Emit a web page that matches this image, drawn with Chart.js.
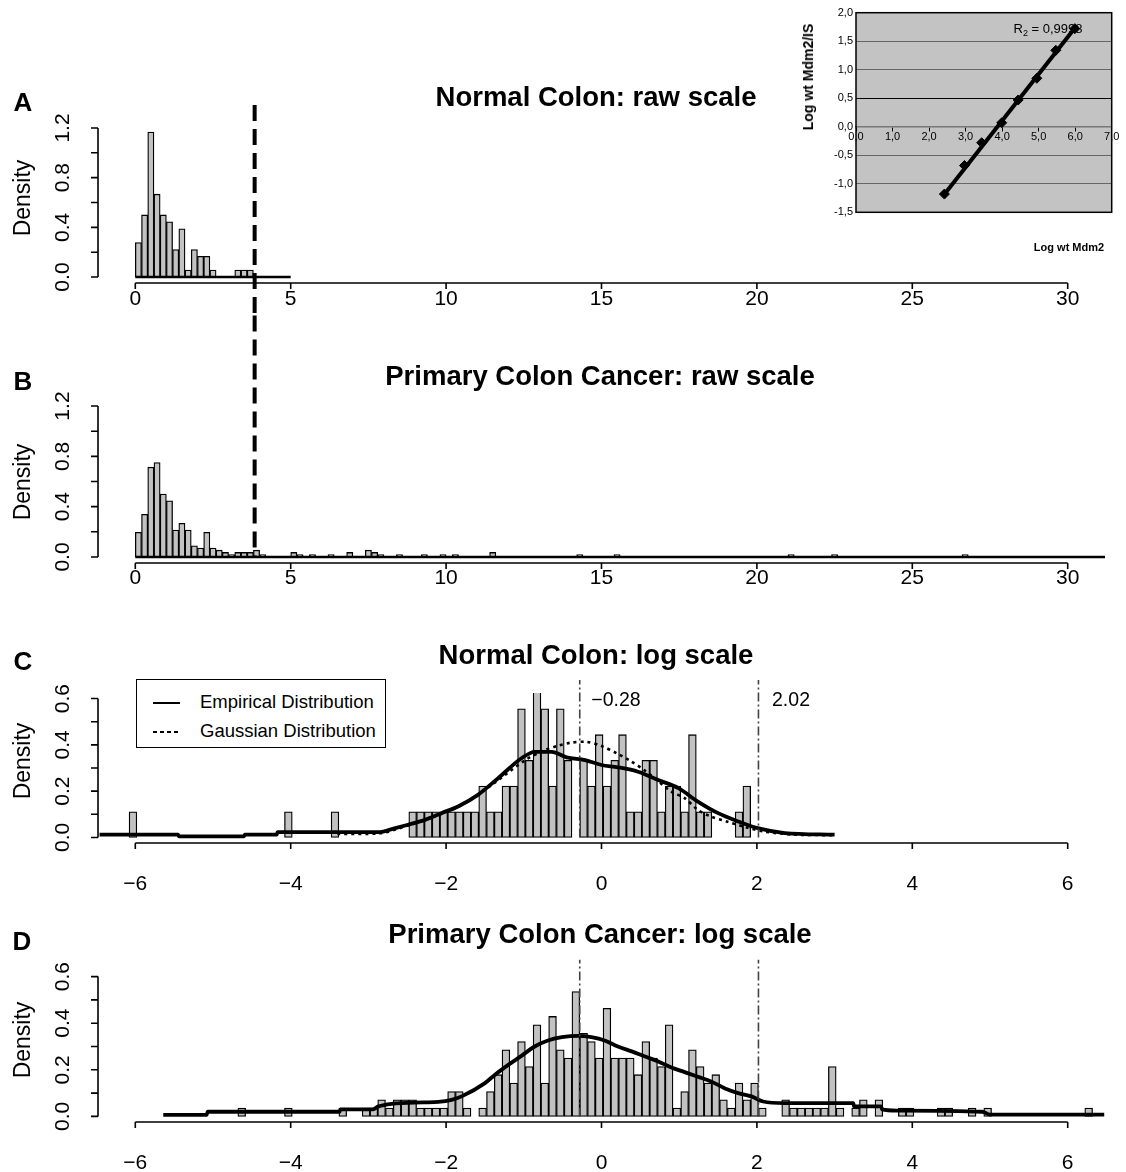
<!DOCTYPE html>
<html>
<head>
<meta charset="utf-8">
<script src="https://cdn.jsdelivr.net/npm/chart.js@4.4.1/dist/chart.umd.min.js"></script>
<style>
  html, body { margin: 0; padding: 0; background: #fff; }
  #fig { position: relative; width: 1126px; height: 1172px; overflow: hidden;
         font-family: "Liberation Sans", Arial, Helvetica, sans-serif; color: #000; }
  canvas { position: absolute; }
  .t { position: absolute; white-space: nowrap; line-height: 1; transform: translate(-50%, -50%); }
  .title  { font-weight: bold; font-size: 27.5px; }
  .letter { font-weight: bold; font-size: 26px; }
  .dens   { font-size: 23px; transform: translate(-50%, -50%) rotate(-90deg); }
  .cut    { font-size: 19.5px; }
  #legend { position: absolute; left: 136px; top: 679px; width: 248px; height: 67px;
            border: 1.5px solid #000; background: #fff; }
  .lrow { position: absolute; left: 16px; font-size: 18.5px; line-height: 20px; white-space: nowrap; }
  .lsw  { display: inline-block; width: 27px; height: 2.5px; vertical-align: middle; margin-right: 20px; }
  .small-b { font-weight: bold; font-size: 11px; }
  .r2 { font-size: 13px; }
  .r2 sub { font-size: 9px; }
</style>
</head>
<body>
<div id="fig">
  <canvas id="histA" width="1126" height="215" style="left:0;top:100px"></canvas>
  <canvas id="histB" width="1126" height="275" style="left:0;top:315px"></canvas>
  <canvas id="histC" width="1126" height="270" style="left:0;top:640px"></canvas>
  <canvas id="histD" width="1126" height="252" style="left:0;top:920px"></canvas>
  <canvas id="calib" width="346" height="260" style="left:780px;top:0"></canvas>

  <div class="t letter" style="left:23px;top:102px">A</div>
  <div class="t title" style="left:596px;top:97px">Normal Colon: raw scale</div>
  <div class="t dens" style="left:22px;top:198px">Density</div>

  <div class="t letter" style="left:23px;top:381px">B</div>
  <div class="t title" style="left:600px;top:376px">Primary Colon Cancer: raw scale</div>
  <div class="t dens" style="left:22px;top:482px">Density</div>

  <div class="t letter" style="left:23px;top:661px">C</div>
  <div class="t title" style="left:596px;top:655px">Normal Colon: log scale</div>
  <div class="t dens" style="left:22px;top:761px">Density</div>
  <div class="t cut" style="left:616px;top:700px">&minus;0.28</div>
  <div class="t cut" style="left:791px;top:700px">2.02</div>

  <div class="t letter" style="left:22px;top:941px">D</div>
  <div class="t title" style="left:600px;top:934px">Primary Colon Cancer: log scale</div>
  <div class="t dens" style="left:22px;top:1040px">Density</div>

  <div id="legend">
    <div class="lrow" style="top:12px"><span class="lsw" style="background:#000"></span>Empirical Distribution</div>
    <div class="lrow" style="top:41px"><span class="lsw" style="background:repeating-linear-gradient(90deg,#000 0 4px,transparent 4px 7px)"></span>Gaussian Distribution</div>
  </div>

  <div class="t small-b" style="left:808px;top:77px;transform:translate(-50%,-50%) rotate(-90deg);font-size:14px">Log wt Mdm2/IS</div>
  <div class="t small-b" style="left:1069px;top:247px">Log wt Mdm2</div>
  <div class="t r2" style="left:1048px;top:30px">R<sub>2</sub> = 0,9998</div>
</div>

<script>
const FONT = '"Liberation Sans", Arial, Helvetica, sans-serif';
Chart.defaults.font.family = FONT;
Chart.defaults.color = '#000';

// ---------- A / B : raw scale (bins of 0.2 starting at 0) ----------
const RAW_BIN = 0.2;
const A_DENSITY = [0.278, 0.5, 1.167, 0.667, 0.5, 0.444, 0.222, 0.389, 0.056, 0.222,
                   0.167, 0.167, 0.056, 0, 0, 0, 0.056, 0.056, 0.056];
const B_DENSITY = [0.196, 0.339, 0.714, 0.75, 0.5, 0.446, 0.214, 0.268, 0.214, 0.089,
                   0.071, 0.196, 0.071, 0.054, 0.036, 0.018, 0.036, 0.036, 0.036, 0.054, 0.018];
const B_TAIL_EDGES   = [5.0, 5.2, 5.6, 6.2, 6.8, 7.4, 7.6, 7.8, 8.4, 9.2, 9.8, 10.2, 11.4, 14.2, 15.4, 21.0, 22.4, 26.6];
const B_TAIL_DENSITY = [0.036, 0.018, 0.018, 0.018, 0.036, 0.054, 0.036, 0.018, 0.018, 0.018,
                        0.018, 0.018, 0.036, 0.018, 0.018, 0.018, 0.018, 0.018];
const A_FLAT_X = [0, 5];        // density trace lying on the axis
const B_FLAT_X = [0, 31.2];
const RAW_CUTOFF = 3.84;
const RAW_X_TICKS = [0, 5, 10, 15, 20, 25, 30];
const RAW_Y_TICKS = [0, 0.4, 0.8, 1.2];
const RAW_Y_MINOR = [0, 0.2, 0.4, 0.6, 0.8, 1.0, 1.2];

// ---------- C / D : log scale (bins of 0.1) ----------
const LOG_BIN = 0.1;
const C_FIRST_EDGE = -2.48;
const C_DENSITY = [0.111, 0.111, 0.111, 0.111, 0.111, 0.111, 0.111,
                   0.111, 0.111, 0.222, 0.111, 0.111, 0.222, 0.222, 0.556, 0.333,
                   0.667, 0.556, 0.222, 0.556, 0.333, 0, 0.333, 0.222, 0.444,
                   0.222, 0.333, 0.444, 0.111, 0.111, 0.333, 0.333, 0.111, 0.222,
                   0.222, 0.111, 0.444, 0.111, 0.111, 0, 0, 0, 0.111, 0.222];
const C_LONE_EDGES   = [-6.08, -4.08, -3.48];
const C_LONE_DENSITY = [0.111, 0.111, 0.111];
const C_EMP_X = [-6.46, -5.45, -5.44, -4.6, -4.59, -4.18, -4.17, -2.85, -2.7, -2.49,
                 -2.27, -2.06, -1.84, -1.59, -1.33, -1.03, -0.86, -0.64, -0.45, -0.21,
                 0, 0.21, 0.47, 0.73, 0.99, 1.24, 1.5, 1.76, 2.01, 2.36, 3.0];
const C_EMP_Y = [0.012, 0.012, 0.005, 0.005, 0.012, 0.012, 0.023, 0.023, 0.036, 0.055,
                 0.076, 0.105, 0.135, 0.184, 0.256, 0.342, 0.37, 0.37, 0.346, 0.334,
                 0.313, 0.303, 0.284, 0.248, 0.213, 0.155, 0.105, 0.069, 0.04, 0.019, 0.012];
const C_GAUSS_X = [-3.4, -2.85, -2.6, -2.2, -1.8, -1.4, -1.0, -0.75, -0.57, -0.4,
                   -0.19, 0, 0.2, 0.37, 0.55, 0.9, 1.07, 1.24, 1.41, 1.61, 1.85, 2.1, 2.5, 3.0];
const C_GAUSS_Y = [0.015, 0.018, 0.04, 0.085, 0.14, 0.23, 0.33, 0.375, 0.395, 0.409,
                   0.413, 0.395, 0.363, 0.331, 0.291, 0.198, 0.17, 0.119, 0.09, 0.069,
                   0.045, 0.025, 0.012, 0.01];

const D_FIRST_EDGE = -3.08;
const D_DENSITY = [0.036, 0.036, 0.071, 0.036, 0.071, 0.071, 0.071, 0.036, 0.036, 0.036,
                   0.036, 0.107, 0.107, 0.036, 0, 0.036, 0.107, 0.179, 0.286, 0.143,
                   0.321, 0.214, 0.393, 0.143, 0.429, 0.286, 0.25, 0.536, 0.357, 0.321,
                   0.25, 0.464, 0.25, 0.25, 0.25, 0.179, 0.321, 0.25, 0.214, 0.393,
                   0.036, 0.107, 0.286, 0.214, 0.143, 0.179, 0.071, 0.036, 0.143, 0.071,
                   0.143, 0.036, 0, 0, 0.071, 0.036, 0.036, 0.036, 0.036, 0.036,
                   0.214, 0.036, 0, 0.036, 0.071, 0, 0.071, 0, 0, 0.036, 0.036];
const D_LONE_EDGES   = [-4.68, -4.08, -3.38, 4.32, 4.42, 4.72, 4.92, 6.22];
const D_LONE_DENSITY = [0.036, 0.036, 0.036, 0.036, 0.036, 0.036, 0.036, 0.036];
const D_EMP_X = [-5.64, -5.08, -5.07, -3.37, -3.36, -2.95, -2.87, -2.7, -2.3, -2.1,
                 -1.93, -1.8, -1.5, -1.37, -1.2, -1.03, -0.86, -0.69, -0.51, -0.3,
                 -0.13, 0.04, 0.21, 0.39, 0.56, 0.73, 0.9, 1.07, 1.24, 1.41,
                 1.59, 1.76, 1.93, 2.08, 2.36, 3.24, 3.25, 3.6, 3.61, 3.8, 4.9, 5.0, 6.47];
const D_EMP_Y = [0.007, 0.007, 0.02, 0.02, 0.03, 0.03, 0.043, 0.054, 0.06, 0.062,
                 0.071, 0.086, 0.143, 0.179, 0.221, 0.26, 0.3, 0.326, 0.34, 0.346,
                 0.34, 0.326, 0.3, 0.279, 0.257, 0.236, 0.21, 0.19, 0.17, 0.15,
                 0.12, 0.1, 0.086, 0.064, 0.057, 0.057, 0.043, 0.043, 0.03, 0.025, 0.02, 0.008, 0.008];
const LOG_CUTOFFS = [-0.28, 2.02];
const LOG_X_TICKS = [-6, -4, -2, 0, 2, 4, 6];
const LOG_Y_TICKS = [0, 0.2, 0.4, 0.6];
const LOG_Y_MINOR = [0, 0.1, 0.2, 0.3, 0.4, 0.5, 0.6];

// ---------- inset : calibration curve ----------
const CAL_X = [2.42, 2.97, 3.44, 3.99, 4.44, 4.95, 5.47, 5.99];
const CAL_Y = [-1.18, -0.68, -0.28, 0.07, 0.47, 0.85, 1.34, 1.72];
const FIT_X = [2.4, 6.05];
const FIT_Y = [-1.2, 1.78];
const CAL_X_TICKS = [0, 1, 2, 3, 4, 5, 6, 7];
const CAL_Y_TICKS = [-1.5, -1.0, -0.5, 0, 0.5, 1.0, 1.5, 2.0];

const BAR_FILL = '#c2c2c2';

function binPoints(firstEdge, width, values) {
  return values.map((v, i) => ({ x: firstEdge + width * (i + 0.5), y: v > 0 ? v : null }));
}
function lonePoints(edges, width, values) {
  return edges.map((e, i) => ({ x: e + width / 2, y: values[i] }));
}
function xy(xs, ys) { return xs.map((x, i) => ({ x, y: ys[i] })); }
const minusFmt = v => (v < 0 ? '\u2212' + Math.abs(v) : String(v));

// R-style axes: lines only between first and last tick, plus reference lines
const rAxes = {
  id: 'rAxes',
  afterDatasetsDraw(chart, args, o) {
    const { ctx, chartArea: a, scales: { x, y } } = chart;
    ctx.save();
    (o.cuts || []).forEach(c => {
      ctx.beginPath();
      ctx.setLineDash(c.dash);
      ctx.lineWidth = c.width;
      ctx.strokeStyle = c.color;
      const px = x.getPixelForValue(c.at);
      ctx.moveTo(px, y.getPixelForValue(c.from));
      ctx.lineTo(px, y.getPixelForValue(c.to));
      ctx.stroke();
    });
    ctx.setLineDash([]);
    ctx.strokeStyle = '#000';
    ctx.lineWidth = 1.6;
    ctx.beginPath();
    const ym = o.yMinor;
    ctx.moveTo(a.left, y.getPixelForValue(ym[0]));
    ctx.lineTo(a.left, y.getPixelForValue(ym[ym.length - 1]));
    ym.forEach(v => {
      const p = y.getPixelForValue(v);
      ctx.moveTo(a.left, p); ctx.lineTo(a.left - 7, p);
    });
    const xt = o.xTicks;
    ctx.moveTo(x.getPixelForValue(xt[0]), a.bottom);
    ctx.lineTo(x.getPixelForValue(xt[xt.length - 1]), a.bottom);
    xt.forEach(v => {
      const p = x.getPixelForValue(v);
      ctx.moveTo(p, a.bottom); ctx.lineTo(p, a.bottom + 6);
    });
    ctx.stroke();
    ctx.restore();
  }
};

function histChart(id, c) {
  return new Chart(document.getElementById(id), {
    type: 'bar',
    data: {
      datasets: c.lines.concat([{
        type: 'bar', data: c.bars, backgroundColor: BAR_FILL, borderColor: '#000',
        borderWidth: 1.3, borderSkipped: false, barPercentage: 1, categoryPercentage: 1, order: 5
      }])
    },
    options: {
      responsive: false, animation: false, events: [],
      layout: { padding: { top: c.padTop, right: 21, left: 0, bottom: 0 } },
      plugins: {
        legend: { display: false }, tooltip: { enabled: false },
        rAxes: { xTicks: c.xTicks, yMinor: c.yMinor, cuts: c.cuts }
      },
      scales: {
        x: {
          type: 'linear', min: c.xMin, max: c.xMax, offset: false,
          grid: { display: false, drawTicks: false }, border: { display: false },
          afterBuildTicks: s => { s.ticks = c.xTicks.map(v => ({ value: v })); },
          afterFit: s => { s.height = c.xHeight; s.paddingLeft = 0; s.paddingRight = 0; },
          ticks: { padding: c.xPad, autoSkip: false, maxRotation: 0, font: { size: 21 }, color: '#000', callback: minusFmt }
        },
        y: {
          min: c.yMin, max: c.yMax,
          grid: { display: false, drawTicks: false }, border: { display: false },
          afterBuildTicks: s => { s.ticks = c.yTicks.map(v => ({ value: v })); },
          afterFit: s => { s.width = 98; s.paddingTop = 0; s.paddingBottom = 0; },
          ticks: { padding: 20, crossAlign: 'center', minRotation: 90, maxRotation: 90,
                   font: { size: 21 }, color: '#000', callback: v => v.toFixed(1) }
        }
      }
    },
    plugins: [rAxes]
  });
}

const empStyle   = { type: 'line', borderColor: '#000', borderWidth: 3.8, pointRadius: 0, fill: false, cubicInterpolationMode: 'monotone', order: 1 };
const gaussStyle = { type: 'line', borderColor: '#000', borderWidth: 2.6, borderDash: [3, 4], pointRadius: 0, fill: false, tension: 0.3, order: 0 };
const flatStyle  = { type: 'line', borderColor: '#000', borderWidth: 2.6, pointRadius: 0, fill: false, order: 1 };
const rawCut = (from, to) => ({ at: RAW_CUTOFF, from, to, dash: [16, 8], width: 4, color: '#000' });
const logCuts = top => LOG_CUTOFFS.map(v => ({ at: v, from: 0, to: top, dash: [9, 3, 2, 3], width: 1.6, color: '#444' }));

histChart('histA', {
  bars: binPoints(0, RAW_BIN, A_DENSITY),
  lines: [Object.assign({ data: xy(A_FLAT_X, [0, 0]) }, flatStyle)],
  xMin: -1.2, xMax: 31.2, yMin: -0.048, yMax: 1.248,
  xTicks: RAW_X_TICKS, yTicks: RAW_Y_TICKS, yMinor: RAW_Y_MINOR,
  padTop: 22, xHeight: 32, xPad: 4,
  cuts: [rawCut(1.385, -0.31)]
});

histChart('histB', {
  bars: binPoints(0, RAW_BIN, B_DENSITY).concat(lonePoints(B_TAIL_EDGES, RAW_BIN, B_TAIL_DENSITY)),
  lines: [Object.assign({ data: xy(B_FLAT_X, [0, 0]) }, flatStyle)],
  xMin: -1.2, xMax: 31.2, yMin: -0.048, yMax: 1.248,
  xTicks: RAW_X_TICKS, yTicks: RAW_Y_TICKS, yMinor: RAW_Y_MINOR,
  padTop: 85, xHeight: 27, xPad: 3,
  cuts: [rawCut(1.92, 0)]
});

histChart('histC', {
  bars: binPoints(C_FIRST_EDGE, LOG_BIN, C_DENSITY).concat(lonePoints(C_LONE_EDGES, LOG_BIN, C_LONE_DENSITY)),
  lines: [
    Object.assign({ data: xy(C_GAUSS_X, C_GAUSS_Y) }, gaussStyle),
    Object.assign({ data: xy(C_EMP_X, C_EMP_Y) }, empStyle)
  ],
  xMin: -6.48, xMax: 6.48, yMin: -0.024, yMax: 0.624,
  xTicks: LOG_X_TICKS, yTicks: LOG_Y_TICKS, yMinor: LOG_Y_MINOR,
  padTop: 53, xHeight: 67, xPad: 29,
  cuts: logCuts(0.68)
});

histChart('histD', {
  bars: binPoints(D_FIRST_EDGE, LOG_BIN, D_DENSITY).concat(lonePoints(D_LONE_EDGES, LOG_BIN, D_LONE_DENSITY)),
  lines: [Object.assign({ data: xy(D_EMP_X, D_EMP_Y) }, empStyle)],
  xMin: -6.48, xMax: 6.48, yMin: -0.024, yMax: 0.624,
  xTicks: LOG_X_TICKS, yTicks: LOG_Y_TICKS, yMinor: LOG_Y_MINOR,
  padTop: 51, xHeight: 50, xPad: 29,
  cuts: logCuts(0.672)
});

// inset: grey plot area with a black frame
const insetFrame = {
  id: 'insetFrame',
  beforeDraw(chart) {
    const { ctx, chartArea: a } = chart;
    ctx.save();
    ctx.fillStyle = '#c3c3c3';
    ctx.fillRect(a.left, a.top, a.width, a.height);
    ctx.restore();
  },
  afterDraw(chart) {
    const { ctx, chartArea: a } = chart;
    ctx.save();
    ctx.strokeStyle = '#000';
    ctx.lineWidth = 1.5;
    ctx.strokeRect(a.left, a.top, a.width, a.height);
    ctx.restore();
  }
};
const commaFmt = v => v.toFixed(1).replace('.', ',');

new Chart(document.getElementById('calib'), {
  type: 'scatter',
  data: {
    datasets: [
      { type: 'line', data: xy(FIT_X, FIT_Y), borderColor: '#000', borderWidth: 4, pointRadius: 0, order: 1 },
      { data: xy(CAL_X, CAL_Y), pointStyle: 'rectRot', pointRadius: 5, backgroundColor: '#000', borderColor: '#000', order: 0 }
    ]
  },
  options: {
    responsive: false, animation: false, events: [],
    layout: { padding: { top: 12.7, right: 14.3, bottom: 47.7, left: 0 } },
    plugins: { legend: { display: false }, tooltip: { enabled: false } },
    scales: {
      x: {
        type: 'linear', min: 0, max: 7, position: { y: 0 },
        afterBuildTicks: s => { s.ticks = CAL_X_TICKS.map(v => ({ value: v })); },
        afterFit: s => { s.paddingLeft = 0; s.paddingRight = 0; },
        grid: { drawOnChartArea: false, tickLength: 4, color: '#000' },
        border: { color: '#777', width: 1.5 },
        ticks: { padding: 0, font: { size: 11 }, color: '#000', callback: commaFmt }
      },
      y: {
        type: 'linear', min: -1.5, max: 2, position: 'left',
        afterBuildTicks: s => { s.ticks = CAL_Y_TICKS.map(v => ({ value: v })); },
        afterFit: s => { s.width = 76; s.paddingTop = 0; s.paddingBottom = 0; },
        grid: { drawTicks: false, color: c => (c.tick && c.tick.value === 0.5 ? '#000' : '#666'), lineWidth: 1 },
        border: { display: false },
        ticks: { padding: 3, font: { size: 11 }, color: '#000', callback: commaFmt }
      }
    }
  },
  plugins: [insetFrame]
});
</script>
</body>
</html>
